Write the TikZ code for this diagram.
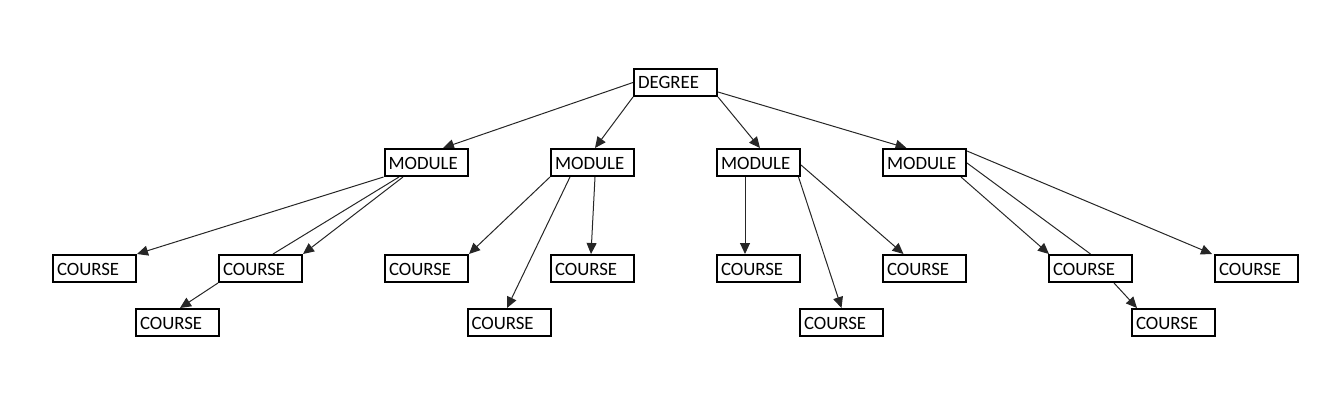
\documentclass[tikz,border=0pt]{standalone}
\usepackage{fontspec}
\setmainfont{Carlito}
\usetikzlibrary{arrows.meta}
\pgfdeclarelayer{bg}
\pgfsetlayers{bg,main}
\tikzset{
  box/.style={draw=black, line width=2pt, fill=white, text width=75pt, align=left,
    inner xsep=4pt, inner ysep=0pt, minimum height=27pt, text height=13pt, text depth=0pt,
    font=\fontsize{18.8pt}{20pt}\selectfont},
  conn/.style={draw=black!85, line width=1pt},
  arr/.style={conn, -{Triangle[length=11pt,width=10pt]}}
}
\begin{document}
\begin{tikzpicture}[x=1pt,y=-1pt]
\useasboundingbox (0,0) rectangle (1344,409);
\node[box] (deg) at (675.5,82.5) {DEGREE};
\node[box] (m1) at (426,162.5) {MODULE};
\node[box] (m2) at (592.5,162.5) {MODULE};
\node[box] (m3) at (758.5,162.5) {MODULE};
\node[box] (m4) at (924.5,162.5) {MODULE};
\node[box] (cA) at (94.5,268.5) {COURSE};
\node[box] (cB) at (260.5,268.5) {COURSE};
\node[box] (cC) at (177.5,322.5) {COURSE};
\node[box] (cE) at (426.5,268.5) {COURSE};
\node[box] (cF) at (509,322.5) {COURSE};
\node[box] (cG) at (592.5,268.5) {COURSE};
\node[box] (cH) at (758.5,268.5) {COURSE};
\node[box] (cI) at (841.5,322.5) {COURSE};
\node[box] (cJ) at (924.5,268.5) {COURSE};
\node[box] (cK) at (1090.5,268.5) {COURSE};
\node[box] (cL) at (1256.5,268.5) {COURSE};
\node[box] (cM) at (1173.5,322.5) {COURSE};
\begin{pgfonlayer}{bg}
\draw[arr] (deg.west) -- ([xshift=17pt]m1.north);
\draw[arr] (deg.south west) -- ([xshift=2.5pt]m2.north);
\draw[arr] (deg.south east) -- ([xshift=1.5pt]m3.north);
\draw[arr] ([yshift=-9.5pt]deg.east) -- ([xshift=-18pt]m4.north);
% module 1
\draw[arr] (m1.south west) -- (cA.north east);
\draw[conn] ([xshift=-27pt]m1.south) -- ([xshift=12.5pt]cB.north);
\draw[arr] ([xshift=-23pt]m1.south) -- (cB.north east);
\draw[arr] (cB.south west) -- ([xshift=2.5pt]cC.north);
% module 2
\draw[arr] (m2.south west) -- (cE.north east);
\draw[arr] ([xshift=-22.5pt]m2.south) -- ([xshift=-2pt]cF.north);
\draw[arr] ([xshift=2.5pt]m2.south) -- ([xshift=-1.5pt]cG.north);
% module 3
\draw[arr] ([xshift=-13.5pt]m3.south) -- ([xshift=-13.5pt]cH.north);
\draw[arr] ([xshift=40pt]m3.south) -- (cI.north);
\draw[arr] ([yshift=-2.5pt]m3.east) -- ([xshift=-21pt]cJ.north);
% module 4
\draw[arr] ([yshift=11.5pt]m4.east) -- ([xshift=-44.5pt]cL.north);
\draw[conn] ([yshift=-0.5pt]m4.east) -- (cK.north);
\draw[arr] ([xshift=-6pt]m4.south east) -- ([xshift=1pt]cK.north west);
\draw[arr] ([xshift=23.5pt]cK.south) -- ([xshift=-36.5pt]cM.north);
\end{pgfonlayer}
\end{tikzpicture}
\end{document}
